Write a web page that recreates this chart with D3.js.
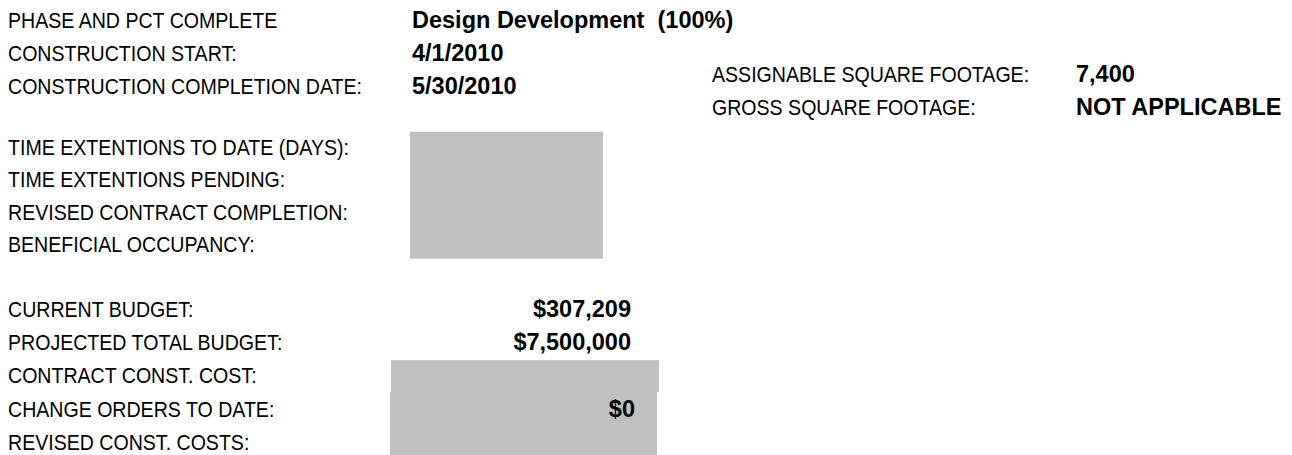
<!DOCTYPE html>
<meta charset="utf-8">
<style>
body { margin: 0; background: #fff; }
.lbl { font-family: "Liberation Sans", Arial, sans-serif; font-size: 22.5px; fill: #000; }
.val { font-family: "Liberation Sans", Arial, sans-serif; font-size: 23.5px; font-weight: bold; fill: #000; white-space: pre; }
.box { fill: #c0c0c0; }
</style>
<body>
<svg width="1292" height="455"></svg>
<script src="https://d3js.org/d3.v7.min.js"></script>
<script>

// block 1: phase / dates
var phaseLabels = ["PHASE AND PCT COMPLETE", "CONSTRUCTION START:", "CONSTRUCTION COMPLETION DATE:"];
var phaseValues = ["Design Development  (100%)", "4/1/2010", "5/30/2010"];

// block 2: time extentions (values blank, shaded cell)
var timeLabels = ["TIME EXTENTIONS TO DATE (DAYS):", "TIME EXTENTIONS PENDING:", "REVISED CONTRACT COMPLETION:", "BENEFICIAL OCCUPANCY:"];

// block 3: budget
var budgetLabels = ["CURRENT BUDGET:", "PROJECTED TOTAL BUDGET:", "CONTRACT CONST. COST:", "CHANGE ORDERS TO DATE:", "REVISED CONST. COSTS:"];
var budgetValues = ["$307,209", "$7,500,000", "", "$0", ""];

// right block: footage
var footLabels = ["ASSIGNABLE SQUARE FOOTAGE:", "GROSS SQUARE FOOTAGE:"];
var footValues = ["7,400", "NOT APPLICABLE"];

var svg = d3.select("svg"),
    H = +svg.attr("height"),
    narrow = 0.87; // labels are set in a condensed face

// row index -> text baseline, one scale per block
var y1 = d3.scaleLinear().domain([0, 1]).range([28, 61]);
var y2 = d3.scaleLinear().domain([0, 1]).range([155, 187.3]);
var y3 = d3.scaleLinear().domain([0, 1]).range([317, 350.2]);
var yR = d3.scaleLinear().domain([0, 1]).range([82, 115]);

function rows(g, labels, y, x) {
    g.selectAll(null)
        .data(labels)
        .enter().append("text")
        .attr("class", "lbl")
        .attr("transform", function(d, i) {
            return "translate(" + x + "," + y(i) + ") scale(" + narrow + ",1)";
        })
        .text(function(d) { return d; });
}

// shaded cells first so the text sits on top
svg.append("rect").attr("class", "box")
    .attr("x", 410).attr("width", 193)
    .attr("y", y2(-0.72)).attr("height", y2(3.21) - y2(-0.72));
svg.append("rect").attr("class", "box")
    .attr("x", 391).attr("width", 268)
    .attr("y", y3(1.3)).attr("height", y3(2.26) - y3(1.3));
svg.append("rect").attr("class", "box")
    .attr("x", 390).attr("width", 267)
    .attr("y", y3(2.26)).attr("height", H - y3(2.26));

var g = svg.append("g");
rows(g, phaseLabels, y1, 8);
rows(g, timeLabels, y2, 8);
rows(g, budgetLabels, y3, 8);
rows(g, footLabels, yR, 712);

g.selectAll(null)
    .data(phaseValues)
    .enter().append("text")
    .attr("class", "val")
    .attr("x", 412)
    .attr("y", function(d, i) { return y1(i); })
    .text(function(d) { return d; });

g.selectAll(null)
    .data(footValues)
    .enter().append("text")
    .attr("class", "val")
    .attr("x", 1076)
    .attr("y", function(d, i) { return yR(i); })
    .text(function(d) { return d; });

g.selectAll(null)
    .data(budgetValues)
    .enter().append("text")
    .attr("class", "val")
    .attr("text-anchor", "end")
    .attr("x", function(d, i) { return i === 3 ? 635 : 631; })
    .attr("y", function(d, i) { return y3(i); })
    .text(function(d) { return d; });

</script>
